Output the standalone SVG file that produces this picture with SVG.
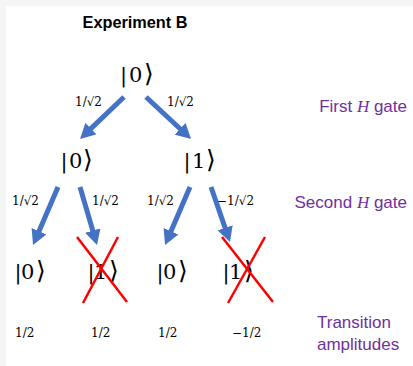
<svg xmlns="http://www.w3.org/2000/svg" width="413" height="366" viewBox="0 0 413 366">
<style>
.ket{font-family:"DejaVu Serif","Liberation Serif",serif;font-size:21px;fill:#000}
.ang{font-family:"DejaVu Sans",sans-serif;font-size:25px}
.amp{font-family:"DejaVu Serif","Liberation Serif",serif;font-size:12px;fill:#000}
.side{font-family:"Liberation Sans",Arial,sans-serif;font-size:17px;fill:#7030A0}
.hi{font-family:"Liberation Serif",serif;font-style:italic}
.title{font-family:"Liberation Sans",Arial,sans-serif;font-size:16.3px;font-weight:bold;fill:#000}
.arr{stroke:#4472C4;stroke-width:5;fill:none;marker-end:url(#head)}
.x{stroke:#FF0000;stroke-width:2.5;fill:none}
</style>
<defs>
<marker id="head" markerUnits="userSpaceOnUse" markerWidth="15" markerHeight="16" viewBox="0 0 15 16" refX="4" refY="8" orient="auto">
<path d="M0,0 L15,8 L0,16 Z" fill="#4472C4"/>
</marker>
</defs>
<rect x="0" y="0" width="413" height="366" fill="#f5f5f5"/>
<rect x="6" y="6" width="407" height="360" fill="#ffffff"/>
<text class="title" x="135" y="28" text-anchor="middle">Experiment B</text>
<g id="connectors">
<line class="arr" x1="124" y1="97" x2="88" y2="131.4"/>
<line class="arr" x1="146" y1="97" x2="183" y2="131.5"/>
<line class="arr" x1="58" y1="187" x2="37.4" y2="234.9"/>
<line class="arr" x1="80" y1="187" x2="93.9" y2="234.4"/>
<line class="arr" x1="190" y1="187" x2="169.4" y2="234.9"/>
<line class="arr" x1="211" y1="187" x2="226.4" y2="231.6"/>
</g>
<g id="edge-labels">
<text class="amp" x="75" y="106">1/√2</text>
<text class="amp" x="167" y="106">1/√2</text>
<text class="amp" x="12" y="205">1/√2</text>
<text class="amp" x="92" y="205">1/√2</text>
<text class="amp" x="147" y="205">1/√2</text>
<text class="amp" x="217" y="205">−1/√2</text>
</g>
<g id="root"><text class="ket" y="82"><tspan x="120">|</tspan><tspan x="129">0</tspan><tspan x="144" class="ang">⟩</tspan></text></g>
<g id="l1-0"><text class="ket" y="168"><tspan x="60.5">|</tspan><tspan x="69">0</tspan><tspan x="83" class="ang">⟩</tspan></text></g>
<g id="l1-1"><text class="ket" y="168"><tspan x="183.5">|</tspan><tspan x="192">1</tspan><tspan x="206" class="ang">⟩</tspan></text></g>
<g id="l2-0a"><text class="ket" y="279"><tspan x="14.5">|</tspan><tspan x="21">0</tspan><tspan x="36" class="ang">⟩</tspan></text></g>
<g id="l2-1a"><text class="ket" y="279"><tspan x="87.5">|</tspan><tspan x="94">1</tspan><tspan x="109" class="ang">⟩</tspan></text>
<line class="x" x1="77" y1="237" x2="127" y2="302"/><line class="x" x1="118" y1="237" x2="83" y2="303"/></g>
<g id="l2-0b"><text class="ket" y="279"><tspan x="156.5">|</tspan><tspan x="163">0</tspan><tspan x="178" class="ang">⟩</tspan></text></g>
<g id="l2-1b"><text class="ket" y="279"><tspan x="222.5">|</tspan><tspan x="229">1</tspan><tspan x="244" class="ang">⟩</tspan></text>
<line class="x" x1="222" y1="237" x2="273" y2="302"/><line class="x" x1="265" y1="237" x2="228" y2="303"/></g>
<g id="amplitudes">
<text class="amp" x="15" y="337">1/2</text>
<text class="amp" x="91" y="337">1/2</text>
<text class="amp" x="158" y="337">1/2</text>
<text class="amp" x="232" y="337">−1/2</text>
</g>
<g id="side-labels">
<text class="side" x="407" y="112" text-anchor="end">First <tspan class="hi">H</tspan> gate</text>
<text class="side" x="407" y="208" text-anchor="end">Second <tspan class="hi">H</tspan> gate</text>
<text class="side" x="317" y="328">Transition</text>
<text class="side" x="317" y="350">amplitudes</text>
</g>
</svg>
